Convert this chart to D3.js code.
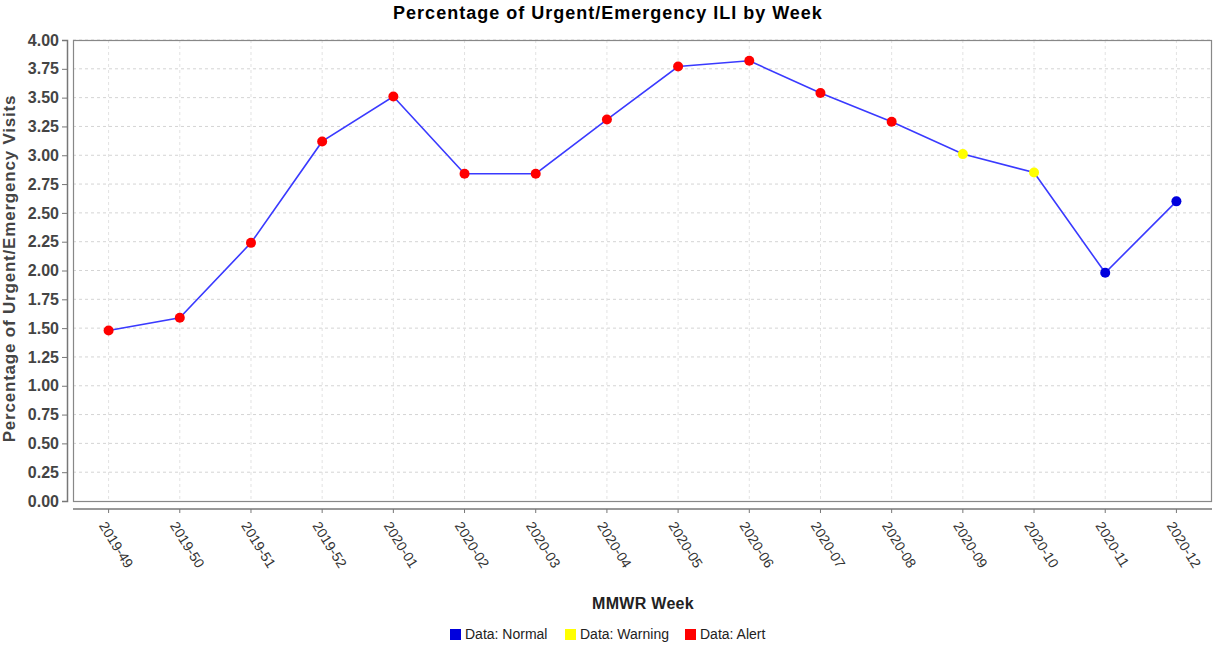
<!DOCTYPE html>
<html>
<head>
<meta charset="utf-8">
<script src="https://cdn.jsdelivr.net/npm/d3@7"></script>
<style>
  body { margin: 0; background: #fff; }
  svg { font-family: "Liberation Sans", Arial, sans-serif; }
</style>
</head>
<body>
<div class="chart"></div>
<script>
// weekly values
const weeks = ['2019-49','2019-50','2019-51','2019-52','2020-01','2020-02','2020-03','2020-04',
               '2020-05','2020-06','2020-07','2020-08','2020-09','2020-10','2020-11','2020-12']
const values = [1.48, 1.59, 2.24, 3.12, 3.51, 2.84, 2.84, 3.31, 3.77, 3.82, 3.54, 3.29, 3.01, 2.85, 1.98, 2.60]
const status = ['Alert','Alert','Alert','Alert','Alert','Alert','Alert','Alert',
                'Alert','Alert','Alert','Alert','Warning','Warning','Normal','Normal']
const yTicks = [0,0.25,0.5,0.75,1,1.25,1.5,1.75,2,2.25,2.5,2.75,3,3.25,3.5,3.75,4]
const legendItems = ['Normal','Warning','Alert']

const Data = weeks.map((w,i) => ({week: w, value: values[i], status: status[i]}))

const W = 1213, H = 645
const margin = ({top: 40, right: 1, bottom: 144, left: 73})
const width = W - margin.left - margin.right,
      height = H - margin.top - margin.bottom

const svg = d3.select('.chart').append('svg')
  .attr('width', W).attr('height', H)

const color = d3.scaleOrdinal()
  .domain(legendItems)
  .range(['#0000dd', '#ffff00', '#ff0000'])

const x = d3.scaleBand().domain(weeks).range([margin.left, margin.left + width])
const y = d3.scaleLinear().domain([0, 4]).range([margin.top + height, margin.top])
const cx = d => x(d) + x.bandwidth() / 2

// grid
const grid = svg.append('g')
grid.selectAll('.hg').data(yTicks.slice(1)).enter().append('line')
  .attr('x1', margin.left).attr('x2', margin.left + width)
  .attr('y1', d => y(d)).attr('y2', d => y(d))
  .attr('stroke', '#d4d4d4').attr('stroke-dasharray', '3,3')
grid.selectAll('.vg').data(weeks).enter().append('line')
  .attr('x1', d => cx(d)).attr('x2', d => cx(d))
  .attr('y1', margin.top).attr('y2', margin.top + height)
  .attr('stroke', '#e2e2e2').attr('stroke-dasharray', '3,3')

// plot border
svg.append('rect')
  .attr('x', margin.left + 0.5).attr('y', margin.top + 0.5)
  .attr('width', width - 1).attr('height', height)
  .attr('fill', 'none').attr('stroke', '#888').attr('stroke-width', 1.2)

// y axis
const yAxis = d3.axisLeft(y).tickValues(yTicks).tickFormat(d3.format('.2f')).tickSize(5).tickPadding(3)
const ya = svg.append('g')
  .attr('transform', `translate(${margin.left - 6},0)`)
  .call(yAxis)
ya.select('.domain').attr('stroke', '#777').attr('stroke-width', 1.5)
ya.selectAll('.tick line').attr('stroke', '#777')
ya.selectAll('text').attr('font-size', 16).attr('font-weight', 'bold').attr('fill', '#444')

// x axis
const xAxis = d3.axisBottom(x).tickSize(4).tickFormat(d => d)
const xa = svg.append('g')
  .attr('transform', `translate(0,${margin.top + height + 8})`)
  .call(xAxis)
xa.select('.domain').attr('stroke', '#777').attr('stroke-width', 1.5).attr('d', `M${margin.left},0H${margin.left + width}`)
xa.selectAll('.tick line').attr('stroke', '#777')
xa.selectAll('text')
  .attr('font-size', 14).attr('fill', '#333')
  .attr('text-anchor', 'start')
  .attr('x', 0).attr('y', 0).attr('dy', '0.35em')
  .attr('transform', 'translate(-6,14) rotate(58)')

// line + points
const line = d3.line().x(d => cx(d.week)).y(d => y(d.value))
svg.append('path').datum(Data)
  .attr('d', line).attr('fill', 'none')
  .attr('stroke', '#3a3aff').attr('stroke-width', 1.6)

svg.selectAll('.pt').data(Data).enter().append('circle')
  .attr('cx', d => cx(d.week)).attr('cy', d => y(d.value))
  .attr('r', 5).attr('fill', d => color(d.status))

// titles
svg.append('text')
  .attr('x', 608).attr('y', 19).attr('text-anchor', 'middle')
  .attr('font-size', 18).attr('font-weight', 'bold').attr('letter-spacing', 1)
  .text('Percentage of Urgent/Emergency ILI by Week')

svg.append('text')
  .attr('transform', `translate(15,${margin.top + height / 2 - 2}) rotate(-90)`)
  .attr('text-anchor', 'middle')
  .attr('font-size', 17).attr('font-weight', 'bold').attr('fill', '#444').attr('letter-spacing', 0.8)
  .text('Percentage of Urgent/Emergency Visits')

svg.append('text')
  .attr('x', 643).attr('y', 609).attr('text-anchor', 'middle')
  .attr('font-size', 16).attr('font-weight', 'bold').attr('fill', '#222').attr('letter-spacing', 0.3)
  .text('MMWR Week')

// legend
const legendX = [450, 565, 685]
const lg = svg.append('g')
lg.selectAll('rect').data(legendItems).enter().append('rect')
  .attr('x', (d,i) => legendX[i]).attr('y', 629)
  .attr('width', 11).attr('height', 11)
  .attr('fill', d => color(d))
lg.selectAll('text').data(legendItems).enter().append('text')
  .attr('x', (d,i) => legendX[i] + 15).attr('y', 639)
  .attr('font-size', 14).attr('fill', '#222')
  .text(d => 'Data: ' + d)
</script>
</body>
</html>
